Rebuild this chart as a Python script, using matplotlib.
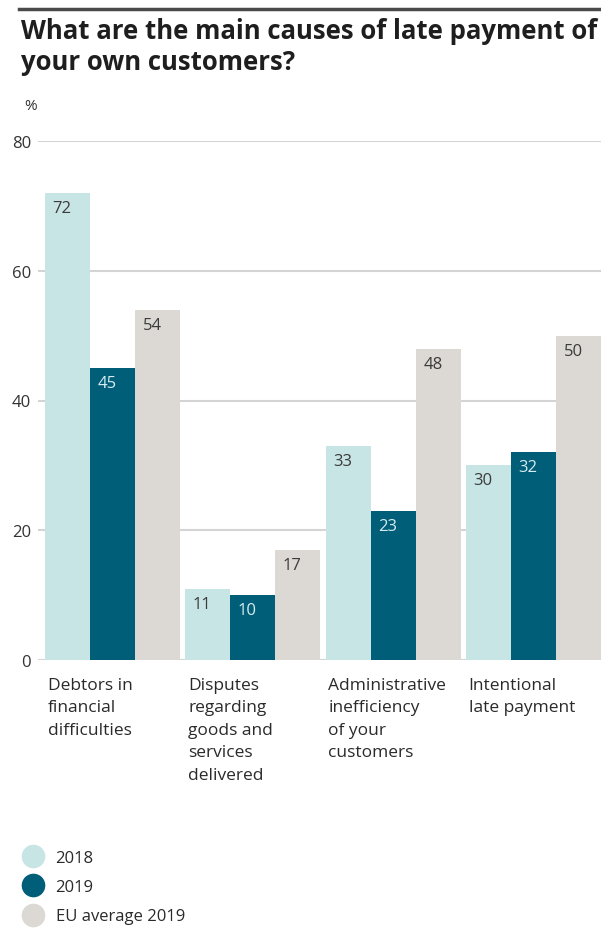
import numpy as np
import matplotlib.pyplot as plt
from matplotlib.lines import Line2D

plt.rcParams['font.family'] = ['Open Sans', 'DejaVu Sans']

# data
categories = ['Debtors in\nfinancial\ndifficulties',
              'Disputes\nregarding\ngoods and\nservices\ndelivered',
              'Administrative\ninefficiency\nof your\ncustomers',
              'Intentional\nlate payment']
series_names = ['2018', '2019', 'EU average 2019']
v2018 = [72, 11, 33, 30]
v2019 = [45, 10, 23, 32]
eu2019 = [54, 17, 48, 50]
yticks = [0, 20, 40, 60, 80]

colors = ['#c8e5e5', '#005e78', '#dcd8d3']
txt_colors = ['#3b3b3b', '#d6ecef', '#3b3b3b']

W, H = 601, 929
fig = plt.figure(figsize=(W / 100, H / 100), dpi=100)

# top rule + title
fig.add_artist(Line2D([19 / W, 1.0], [1 - 10 / H, 1 - 10 / H], color='#4a4a4a', lw=2.5))
fig.text(21 / W, 1 - 18 / H, 'What are the main causes of late payment of\nyour own customers?',
         ha='left', va='top', fontsize=18.5, fontweight='bold', color='#1e1e1e', linespacing=1.2)
fig.text(24 / W, 1 - 107 / H, '%', ha='left', va='center', fontsize=11, color='#333333')

ax = fig.add_axes([38 / W, 268 / H, 1 - 38 / W, (661 - 142) / H])
x = np.arange(len(categories))
w = 0.321
for k, vals in enumerate([v2018, v2019, eu2019]):
    pos = x + (k - 1) * w
    ax.bar(pos, vals, width=w, color=colors[k], zorder=2, label=series_names[k])
    for p, v in zip(pos, vals):
        ax.annotate(str(v), xy=(p - w / 2, v), xytext=(5.5, -5), textcoords='offset points',
                    ha='left', va='top', fontsize=12, color=txt_colors[k], zorder=3)

ax.set_xlim(-0.531, 3.481)
ax.set_ylim(0, 80)
ax.set_yticks(yticks)
ax.set_xticks([])
ax.yaxis.grid(True, color='#d4d4d4', lw=1.5, zorder=0)
ax.tick_params(axis='y', length=0, pad=5, labelsize=12, labelcolor='#333333')
for s in ax.spines.values():
    s.set_visible(False)

for i, c in enumerate(categories):
    ax.annotate(c, xy=(i - 1.5 * w, 0), xytext=(2, -12), textcoords='offset points',
                ha='left', va='top', fontsize=12.5, color='#2a2a2a', linespacing=1.55,
                annotation_clip=False)

handles = [Line2D([], [], marker='o', ls='', markersize=16, color=c) for c in colors]
fig.legend(handles, series_names, loc='upper left', bbox_to_anchor=(13 / W, 1 - 844 / H),
           frameon=False, fontsize=12, labelspacing=0.8, handletextpad=0.55,
           handlelength=1.6, borderaxespad=0, labelcolor='#2a2a2a')

fig.savefig('out.png', dpi=100)
